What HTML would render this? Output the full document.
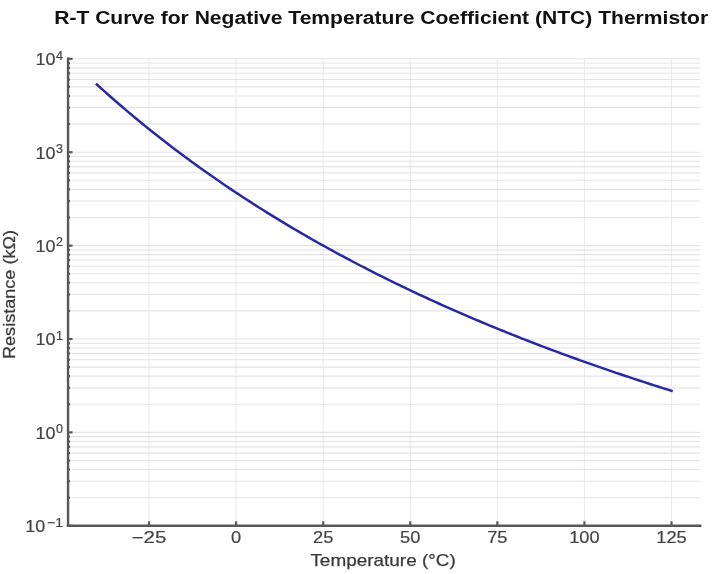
<!DOCTYPE html>
<html><head><meta charset="utf-8">
<style>
html,body{margin:0;padding:0;background:#fff;width:720px;height:574px;overflow:hidden}
svg{position:absolute;left:0;top:0;will-change:transform}
text{font-family:"Liberation Sans",sans-serif}
.gM,.gm{stroke:#e3e3e3;stroke-width:1.1} .gv{stroke:#ebebeb;stroke-width:1.1}
.tk{stroke:#5a5a5a;stroke-width:2.2}
.sp{stroke:#585858;stroke-width:2.4;stroke-linecap:square}
.xt{font-size:16.3px;fill:#444;stroke:#444;stroke-width:0.2}
.yt{font-size:16.3px;fill:#444;stroke:#444;stroke-width:0.2}
.ys{font-size:12.5px;fill:#444;stroke:#444;stroke-width:0.2}
</style></head><body>
<svg width="720" height="574" viewBox="0 0 720 574">
<rect width="720" height="574" fill="#fff"/>
<line x1="149.02" y1="58.80" x2="149.02" y2="525.80" class="gv"/><line x1="236.10" y1="58.80" x2="236.10" y2="525.80" class="gv"/><line x1="323.18" y1="58.80" x2="323.18" y2="525.80" class="gv"/><line x1="410.26" y1="58.80" x2="410.26" y2="525.80" class="gv"/><line x1="497.34" y1="58.80" x2="497.34" y2="525.80" class="gv"/><line x1="584.42" y1="58.80" x2="584.42" y2="525.80" class="gv"/><line x1="671.50" y1="58.80" x2="671.50" y2="525.80" class="gv"/><line x1="68.04" y1="525.80" x2="700.24" y2="525.80" class="gM"/><line x1="68.04" y1="497.68" x2="700.24" y2="497.68" class="gm"/><line x1="68.04" y1="481.24" x2="700.24" y2="481.24" class="gm"/><line x1="68.04" y1="469.57" x2="700.24" y2="469.57" class="gm"/><line x1="68.04" y1="460.52" x2="700.24" y2="460.52" class="gm"/><line x1="68.04" y1="453.12" x2="700.24" y2="453.12" class="gm"/><line x1="68.04" y1="446.87" x2="700.24" y2="446.87" class="gm"/><line x1="68.04" y1="441.45" x2="700.24" y2="441.45" class="gm"/><line x1="68.04" y1="436.67" x2="700.24" y2="436.67" class="gm"/><line x1="68.04" y1="432.40" x2="700.24" y2="432.40" class="gM"/><line x1="68.04" y1="404.28" x2="700.24" y2="404.28" class="gm"/><line x1="68.04" y1="387.84" x2="700.24" y2="387.84" class="gm"/><line x1="68.04" y1="376.17" x2="700.24" y2="376.17" class="gm"/><line x1="68.04" y1="367.12" x2="700.24" y2="367.12" class="gm"/><line x1="68.04" y1="359.72" x2="700.24" y2="359.72" class="gm"/><line x1="68.04" y1="353.47" x2="700.24" y2="353.47" class="gm"/><line x1="68.04" y1="348.05" x2="700.24" y2="348.05" class="gm"/><line x1="68.04" y1="343.27" x2="700.24" y2="343.27" class="gm"/><line x1="68.04" y1="339.00" x2="700.24" y2="339.00" class="gM"/><line x1="68.04" y1="310.88" x2="700.24" y2="310.88" class="gm"/><line x1="68.04" y1="294.44" x2="700.24" y2="294.44" class="gm"/><line x1="68.04" y1="282.77" x2="700.24" y2="282.77" class="gm"/><line x1="68.04" y1="273.72" x2="700.24" y2="273.72" class="gm"/><line x1="68.04" y1="266.32" x2="700.24" y2="266.32" class="gm"/><line x1="68.04" y1="260.07" x2="700.24" y2="260.07" class="gm"/><line x1="68.04" y1="254.65" x2="700.24" y2="254.65" class="gm"/><line x1="68.04" y1="249.87" x2="700.24" y2="249.87" class="gm"/><line x1="68.04" y1="245.60" x2="700.24" y2="245.60" class="gM"/><line x1="68.04" y1="217.48" x2="700.24" y2="217.48" class="gm"/><line x1="68.04" y1="201.04" x2="700.24" y2="201.04" class="gm"/><line x1="68.04" y1="189.37" x2="700.24" y2="189.37" class="gm"/><line x1="68.04" y1="180.32" x2="700.24" y2="180.32" class="gm"/><line x1="68.04" y1="172.92" x2="700.24" y2="172.92" class="gm"/><line x1="68.04" y1="166.67" x2="700.24" y2="166.67" class="gm"/><line x1="68.04" y1="161.25" x2="700.24" y2="161.25" class="gm"/><line x1="68.04" y1="156.47" x2="700.24" y2="156.47" class="gm"/><line x1="68.04" y1="152.20" x2="700.24" y2="152.20" class="gM"/><line x1="68.04" y1="124.08" x2="700.24" y2="124.08" class="gm"/><line x1="68.04" y1="107.64" x2="700.24" y2="107.64" class="gm"/><line x1="68.04" y1="95.97" x2="700.24" y2="95.97" class="gm"/><line x1="68.04" y1="86.92" x2="700.24" y2="86.92" class="gm"/><line x1="68.04" y1="79.52" x2="700.24" y2="79.52" class="gm"/><line x1="68.04" y1="73.27" x2="700.24" y2="73.27" class="gm"/><line x1="68.04" y1="67.85" x2="700.24" y2="67.85" class="gm"/><line x1="68.04" y1="63.07" x2="700.24" y2="63.07" class="gm"/><line x1="68.04" y1="58.80" x2="700.24" y2="58.80" class="gM"/>
<path d="M96.77,84.40 L99.65,87.01 L102.52,89.60 L105.39,92.17 L108.27,94.72 L111.14,97.26 L114.01,99.77 L116.89,102.27 L119.76,104.76 L122.63,107.22 L125.51,109.67 L128.38,112.10 L131.26,114.52 L134.13,116.92 L137.00,119.30 L139.88,121.67 L142.75,124.02 L145.62,126.36 L148.50,128.68 L151.37,130.98 L154.24,133.27 L157.12,135.54 L159.99,137.80 L162.87,140.05 L165.74,142.28 L168.61,144.49 L171.49,146.70 L174.36,148.88 L177.23,151.06 L180.11,153.21 L182.98,155.36 L185.85,157.49 L188.73,159.61 L191.60,161.71 L194.48,163.81 L197.35,165.88 L200.22,167.95 L203.10,170.00 L205.97,172.04 L208.84,174.07 L211.72,176.08 L214.59,178.08 L217.46,180.07 L220.34,182.05 L223.21,184.01 L226.09,185.97 L228.96,187.91 L231.83,189.84 L234.71,191.75 L237.58,193.66 L240.45,195.55 L243.33,197.44 L246.20,199.31 L249.07,201.17 L251.95,203.02 L254.82,204.86 L257.70,206.69 L260.57,208.50 L263.44,210.31 L266.32,212.11 L269.19,213.89 L272.06,215.67 L274.94,217.43 L277.81,219.19 L280.68,220.93 L283.56,222.67 L286.43,224.39 L289.31,226.10 L292.18,227.81 L295.05,229.50 L297.93,231.19 L300.80,232.87 L303.67,234.53 L306.55,236.19 L309.42,237.84 L312.30,239.48 L315.17,241.10 L318.04,242.73 L320.92,244.34 L323.79,245.94 L326.66,247.53 L329.54,249.12 L332.41,250.69 L335.28,252.26 L338.16,253.82 L341.03,255.37 L343.91,256.91 L346.78,258.45 L349.65,259.97 L352.53,261.49 L355.40,263.00 L358.27,264.50 L361.15,265.99 L364.02,267.48 L366.89,268.96 L369.77,270.42 L372.64,271.89 L375.52,273.34 L378.39,274.79 L381.26,276.23 L384.14,277.66 L387.01,279.08 L389.88,280.50 L392.76,281.91 L395.63,283.31 L398.50,284.70 L401.38,286.09 L404.25,287.47 L407.13,288.84 L410.00,290.21 L412.87,291.57 L415.75,292.92 L418.62,294.27 L421.49,295.60 L424.37,296.94 L427.24,298.26 L430.11,299.58 L432.99,300.89 L435.86,302.20 L438.74,303.50 L441.61,304.79 L444.48,306.07 L447.36,307.35 L450.23,308.63 L453.10,309.89 L455.98,311.15 L458.85,312.41 L461.72,313.66 L464.60,314.90 L467.47,316.14 L470.35,317.37 L473.22,318.59 L476.09,319.81 L478.97,321.02 L481.84,322.23 L484.71,323.43 L487.59,324.63 L490.46,325.82 L493.33,327.00 L496.21,328.18 L499.08,329.35 L501.96,330.52 L504.83,331.68 L507.70,332.84 L510.58,333.99 L513.45,335.13 L516.32,336.27 L519.20,337.41 L522.07,338.54 L524.94,339.66 L527.82,340.78 L530.69,341.89 L533.57,343.00 L536.44,344.11 L539.31,345.21 L542.19,346.30 L545.06,347.39 L547.93,348.47 L550.81,349.55 L553.68,350.62 L556.55,351.69 L559.43,352.76 L562.30,353.82 L565.18,354.87 L568.05,355.92 L570.92,356.97 L573.80,358.01 L576.67,359.04 L579.54,360.08 L582.42,361.10 L585.29,362.12 L588.16,363.14 L591.04,364.16 L593.91,365.16 L596.79,366.17 L599.66,367.17 L602.53,368.16 L605.41,369.16 L608.28,370.14 L611.15,371.13 L614.03,372.10 L616.90,373.08 L619.77,374.05 L622.65,375.02 L625.52,375.98 L628.40,376.93 L631.27,377.89 L634.14,378.84 L637.02,379.78 L639.89,380.72 L642.76,381.66 L645.64,382.60 L648.51,383.53 L651.38,384.45 L654.26,385.37 L657.13,386.29 L660.01,387.21 L662.88,388.12 L665.75,389.02 L668.63,389.93 L671.50,390.82" fill="none" stroke="#2b28a8" stroke-width="2.5" stroke-linejoin="round" stroke-linecap="square"/>
<line x1="149.02" y1="525.80" x2="149.02" y2="521.30" class="tk"/><line x1="236.10" y1="525.80" x2="236.10" y2="521.30" class="tk"/><line x1="323.18" y1="525.80" x2="323.18" y2="521.30" class="tk"/><line x1="410.26" y1="525.80" x2="410.26" y2="521.30" class="tk"/><line x1="497.34" y1="525.80" x2="497.34" y2="521.30" class="tk"/><line x1="584.42" y1="525.80" x2="584.42" y2="521.30" class="tk"/><line x1="671.50" y1="525.80" x2="671.50" y2="521.30" class="tk"/><line x1="68.04" y1="525.80" x2="72.54" y2="525.80" class="tk"/><line x1="68.04" y1="497.68" x2="70.04" y2="497.68" class="tk"/><line x1="68.04" y1="481.24" x2="70.04" y2="481.24" class="tk"/><line x1="68.04" y1="469.57" x2="70.04" y2="469.57" class="tk"/><line x1="68.04" y1="460.52" x2="70.04" y2="460.52" class="tk"/><line x1="68.04" y1="453.12" x2="70.04" y2="453.12" class="tk"/><line x1="68.04" y1="446.87" x2="70.04" y2="446.87" class="tk"/><line x1="68.04" y1="441.45" x2="70.04" y2="441.45" class="tk"/><line x1="68.04" y1="436.67" x2="70.04" y2="436.67" class="tk"/><line x1="68.04" y1="432.40" x2="72.54" y2="432.40" class="tk"/><line x1="68.04" y1="404.28" x2="70.04" y2="404.28" class="tk"/><line x1="68.04" y1="387.84" x2="70.04" y2="387.84" class="tk"/><line x1="68.04" y1="376.17" x2="70.04" y2="376.17" class="tk"/><line x1="68.04" y1="367.12" x2="70.04" y2="367.12" class="tk"/><line x1="68.04" y1="359.72" x2="70.04" y2="359.72" class="tk"/><line x1="68.04" y1="353.47" x2="70.04" y2="353.47" class="tk"/><line x1="68.04" y1="348.05" x2="70.04" y2="348.05" class="tk"/><line x1="68.04" y1="343.27" x2="70.04" y2="343.27" class="tk"/><line x1="68.04" y1="339.00" x2="72.54" y2="339.00" class="tk"/><line x1="68.04" y1="310.88" x2="70.04" y2="310.88" class="tk"/><line x1="68.04" y1="294.44" x2="70.04" y2="294.44" class="tk"/><line x1="68.04" y1="282.77" x2="70.04" y2="282.77" class="tk"/><line x1="68.04" y1="273.72" x2="70.04" y2="273.72" class="tk"/><line x1="68.04" y1="266.32" x2="70.04" y2="266.32" class="tk"/><line x1="68.04" y1="260.07" x2="70.04" y2="260.07" class="tk"/><line x1="68.04" y1="254.65" x2="70.04" y2="254.65" class="tk"/><line x1="68.04" y1="249.87" x2="70.04" y2="249.87" class="tk"/><line x1="68.04" y1="245.60" x2="72.54" y2="245.60" class="tk"/><line x1="68.04" y1="217.48" x2="70.04" y2="217.48" class="tk"/><line x1="68.04" y1="201.04" x2="70.04" y2="201.04" class="tk"/><line x1="68.04" y1="189.37" x2="70.04" y2="189.37" class="tk"/><line x1="68.04" y1="180.32" x2="70.04" y2="180.32" class="tk"/><line x1="68.04" y1="172.92" x2="70.04" y2="172.92" class="tk"/><line x1="68.04" y1="166.67" x2="70.04" y2="166.67" class="tk"/><line x1="68.04" y1="161.25" x2="70.04" y2="161.25" class="tk"/><line x1="68.04" y1="156.47" x2="70.04" y2="156.47" class="tk"/><line x1="68.04" y1="152.20" x2="72.54" y2="152.20" class="tk"/><line x1="68.04" y1="124.08" x2="70.04" y2="124.08" class="tk"/><line x1="68.04" y1="107.64" x2="70.04" y2="107.64" class="tk"/><line x1="68.04" y1="95.97" x2="70.04" y2="95.97" class="tk"/><line x1="68.04" y1="86.92" x2="70.04" y2="86.92" class="tk"/><line x1="68.04" y1="79.52" x2="70.04" y2="79.52" class="tk"/><line x1="68.04" y1="73.27" x2="70.04" y2="73.27" class="tk"/><line x1="68.04" y1="67.85" x2="70.04" y2="67.85" class="tk"/><line x1="68.04" y1="63.07" x2="70.04" y2="63.07" class="tk"/><line x1="68.04" y1="58.80" x2="72.54" y2="58.80" class="tk"/>
<line x1="68.04" y1="58.80" x2="68.04" y2="525.80" class="sp"/>
<line x1="68.04" y1="525.80" x2="700.24" y2="525.80" class="sp"/>
<text x="149.02" y="543.2" class="xt" text-anchor="middle" transform="translate(149.02,0) scale(1.26,1) translate(-149.02,0)">−25</text><text x="236.10" y="543.2" class="xt" text-anchor="middle" transform="translate(236.10,0) scale(1.12,1) translate(-236.10,0)">0</text><text x="323.18" y="543.2" class="xt" text-anchor="middle" transform="translate(323.18,0) scale(1.12,1) translate(-323.18,0)">25</text><text x="410.26" y="543.2" class="xt" text-anchor="middle" transform="translate(410.26,0) scale(1.12,1) translate(-410.26,0)">50</text><text x="497.34" y="543.2" class="xt" text-anchor="middle" transform="translate(497.34,0) scale(1.12,1) translate(-497.34,0)">75</text><text x="584.42" y="543.2" class="xt" text-anchor="middle" transform="translate(584.42,0) scale(1.12,1) translate(-584.42,0)">100</text><text x="671.50" y="543.2" class="xt" text-anchor="middle" transform="translate(671.50,0) scale(1.12,1) translate(-671.50,0)">125</text><text transform="translate(63.00,526.50) scale(1.12,1)" text-anchor="end" class="ys">−1</text><text transform="translate(45.30,532.10) scale(1.1,1)" text-anchor="end" class="yt">10</text><text transform="translate(63.00,433.10) scale(1.0,1)" text-anchor="end" class="ys">0</text><text transform="translate(55.45,438.70) scale(1.1,1)" text-anchor="end" class="yt">10</text><text transform="translate(63.00,339.70) scale(1.0,1)" text-anchor="end" class="ys">1</text><text transform="translate(55.45,345.30) scale(1.1,1)" text-anchor="end" class="yt">10</text><text transform="translate(63.00,246.30) scale(1.0,1)" text-anchor="end" class="ys">2</text><text transform="translate(55.45,251.90) scale(1.1,1)" text-anchor="end" class="yt">10</text><text transform="translate(63.00,152.90) scale(1.0,1)" text-anchor="end" class="ys">3</text><text transform="translate(55.45,158.50) scale(1.1,1)" text-anchor="end" class="yt">10</text><text transform="translate(63.00,59.50) scale(1.0,1)" text-anchor="end" class="ys">4</text><text transform="translate(55.45,65.10) scale(1.1,1)" text-anchor="end" class="yt">10</text>
<text x="54.2" y="24.1" font-weight="bold" font-size="18" fill="#111" textLength="654" lengthAdjust="spacingAndGlyphs">R-T Curve for Negative Temperature Coefficient (NTC) Thermistor</text>
<text x="310.4" y="565.5" font-size="17" fill="#3a3a3a" stroke="#3a3a3a" stroke-width="0.25" textLength="145.4" lengthAdjust="spacingAndGlyphs">Temperature (°C)</text>
<text transform="translate(14.6,359) rotate(-90)" x="0" y="0" font-size="17" fill="#3a3a3a" stroke="#3a3a3a" stroke-width="0.25" textLength="129" lengthAdjust="spacingAndGlyphs">Resistance (kΩ)</text>
</svg>
</body></html>
